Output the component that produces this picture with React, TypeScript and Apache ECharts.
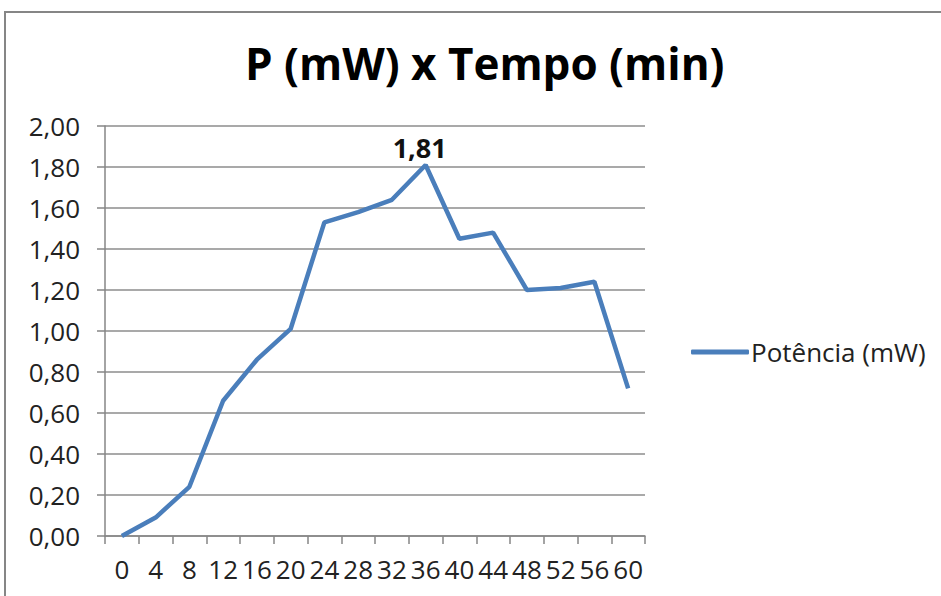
import React, { useEffect, useRef } from "react";
import * as echarts from "echarts";

const categories = ["0", "4", "8", "12", "16", "20", "24", "28", "32", "36", "40", "44", "48", "52", "56", "60"];
const potencia = [0, 0.09, 0.24, 0.66, 0.86, 1.01, 1.53, 1.58, 1.64, 1.81, 1.45, 1.48, 1.2, 1.21, 1.24, 0.72];
const labeledIndex = 9;
const titleText = "P (mW) x Tempo (min)";
const seriesName = "Potência (mW)";

const fmt = (v: number) => v.toFixed(2).replace(".", ",");

export default function App() {
  const ref = useRef<HTMLDivElement>(null);
  useEffect(() => {
    if (!ref.current) return;
    const chart = echarts.init(ref.current, undefined, { renderer: "svg" });
    const font = "'Open Sans', Lato, sans-serif";
    chart.setOption({
      animation: false,
      backgroundColor: "#ffffff",
      title: {
        text: titleText,
        left: 240,
        top: 36,
        textStyle: { fontFamily: font, fontWeight: "bold", fontSize: 44, color: "#000" },
      },
      graphic: [
        {
          type: "rect",
          shape: { x: 5, y: 12, width: 1000, height: 1000 },
          style: { fill: "none", stroke: "#868686", lineWidth: 2 },
          silent: true,
        },
      ],
      legend: {
        data: [seriesName],
        left: 686,
        top: 334,
        icon: "roundRect",
        itemWidth: 58,
        itemHeight: 5,
        itemGap: 0,
        textStyle: { fontFamily: font, fontSize: 26, color: "#222", padding: [0, 0, 0, -3] },
      },
      grid: { left: 105, right: 296, top: 126, bottom: 60, containLabel: false },
      xAxis: {
        type: "category",
        data: categories,
        boundaryGap: true,
        axisLine: { lineStyle: { color: "#868686", width: 1.5 } },
        axisTick: { show: true, length: 8, lineStyle: { color: "#868686", width: 1.5 } },
        axisLabel: { fontFamily: font, fontSize: 26, color: "#222", margin: 20, interval: 0 },
      },
      yAxis: {
        type: "value",
        min: 0,
        max: 2,
        interval: 0.2,
        axisLine: { show: true, lineStyle: { color: "#868686", width: 1.5 } },
        axisTick: { show: true, length: 8, lineStyle: { color: "#868686", width: 1.5 } },
        splitLine: { lineStyle: { color: "#8c8c8c", width: 1.5 } },
        axisLabel: { fontFamily: font, fontSize: 26, color: "#222", margin: 25, formatter: (v: number) => fmt(v) },
      },
      series: [
        {
          name: seriesName,
          type: "line",
          data: potencia.map((v, i) =>
            i === labeledIndex
              ? {
                  value: v,
                  label: {
                    show: true,
                    position: "top",
                    distance: 4,
                    offset: [-6, 0],
                    formatter: (p: any) => fmt(p.value),
                    fontFamily: font,
                    fontWeight: "bold",
                    fontSize: 27,
                    color: "#111",
                  },
                }
              : v
          ),
          showSymbol: true,
          symbol: "circle",
          symbolSize: 0,
          lineStyle: { color: "#4a7ebb", width: 4.5 },
          itemStyle: { color: "#4a7ebb" },
        },
      ],
    });
    return () => chart.dispose();
  }, []);
  return (
    <div
      ref={ref}
      style={{ position: "fixed", left: 0, top: 0, width: 941, height: 596, background: "#fff" }}
    />
  );
}
